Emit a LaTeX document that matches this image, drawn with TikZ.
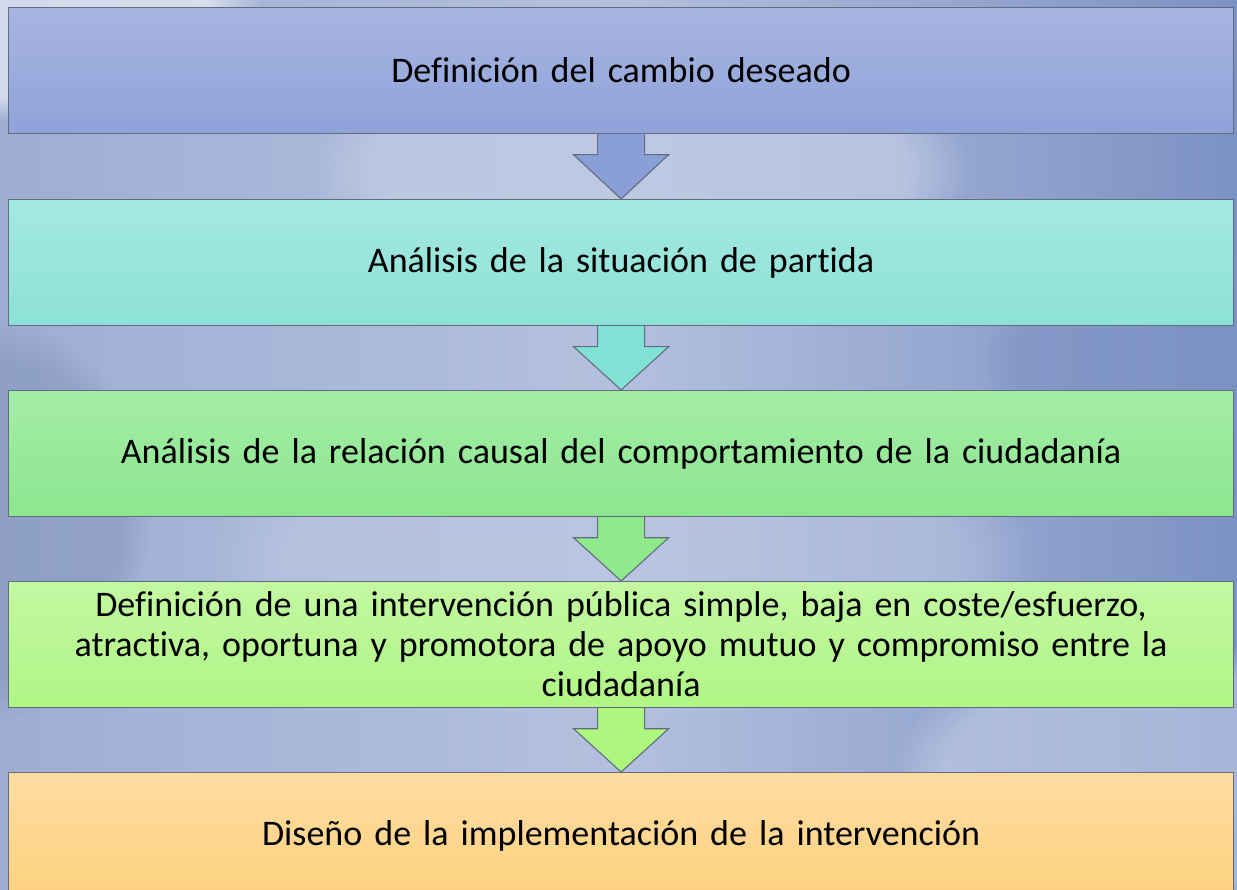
\documentclass[tikz,border=0pt]{standalone}
\usepackage{fontspec}
\setmainfont{Carlito}[Ligatures=NoCommon]
\usetikzlibrary{calc,fadings}
\definecolor{bgbase}{HTML}{A4B3D6}
\definecolor{bgdark}{HTML}{7C92C4}
\definecolor{bglight}{HTML}{C3CDE6}
\definecolor{edge}{HTML}{626C7C}
\definecolor{aT}{HTML}{A7B5E1}\definecolor{aB}{HTML}{8FA2D9}
\definecolor{bT}{HTML}{A4E9E0}\definecolor{bB}{HTML}{8CE1D6}
\definecolor{cT}{HTML}{A3EDA7}\definecolor{cB}{HTML}{8DE68F}
\definecolor{dT}{HTML}{C3F8A2}\definecolor{dB}{HTML}{B0F585}
\definecolor{eT}{HTML}{FEDCA2}\definecolor{eB}{HTML}{FDD27F}
\definecolor{arA}{HTML}{8A9ED8}
\definecolor{arB}{HTML}{80E2D5}
\definecolor{arC}{HTML}{90EA8C}
\definecolor{arD}{HTML}{ADF77E}
\tikzset{
  stepbox/.style={draw=edge, line width=1.2pt, minimum width=1225pt, minimum height=126pt,
    inner sep=0pt, text width=1200pt, align=center, font=\fontsize{36}{40}\selectfont},
  blockarrow/.style={draw=edge, line width=1.1pt, line join=miter}
}
\begin{document}
\begin{tikzpicture}[x=1pt,y=-1pt]
\useasboundingbox (0,0) rectangle (1237,890);
\clip (0,0) rectangle (1237,890);
% background sky
\shade[left color=bgbase!85!bgdark, right color=bgdark, middle color=bglight!50!bgbase] (0,0) rectangle (1237,890);
\fill[white, opacity=0.55, path fading=circle with fuzzy edge 20 percent] (0,0) ellipse (260 and 120);
\fill[bglight, opacity=0.7, path fading=circle with fuzzy edge 20 percent] (640,170) ellipse (330 and 130);
\fill[bglight, opacity=0.45, path fading=circle with fuzzy edge 20 percent] (620,560) ellipse (420 and 160);
\fill[bglight, opacity=0.6, path fading=circle with fuzzy edge 20 percent] (1150,780) ellipse (260 and 140);
\fill[bgdark, opacity=0.6, path fading=circle with fuzzy edge 20 percent] (1180,360) ellipse (200 and 160);
\fill[bgdark!80!black, opacity=0.25, path fading=circle with fuzzy edge 20 percent] (0,520) ellipse (150 and 200);
% boxes
\node[stepbox, top color=aT, bottom color=aB, anchor=north west] (b1) at (8,7) {Definición del cambio deseado};
\node[stepbox, top color=bT, bottom color=bB, anchor=north west] (b2) at (8,199) {Análisis de la situación de partida};
\node[stepbox, top color=cT, bottom color=cB, anchor=north west] (b3) at (8,390) {Análisis de la relación causal del comportamiento de la ciudadanía};
\node[stepbox, top color=dT, bottom color=dB, anchor=north west] (b4) at (8,581) {Definición de una intervención pública simple, baja en coste/esfuerzo,\\ atractiva, oportuna y promotora de apoyo mutuo y compromiso entre la\\ ciudadanía};
\node[stepbox, top color=eT, bottom color=eB, anchor=north west] (b5) at (8,772) {Diseño de la implementación de la intervención};
% arrows
\foreach \a/\b/\c in {b1/b2/arA, b2/b3/arB, b3/b4/arC, b4/b5/arD}{
  \filldraw[blockarrow, fill=\c]
    ($(\a.south)+(-23.5,0)$) -- ($(\a.south)+(-23.5,20.5)$) -- ($(\a.south)+(-47.5,20.5)$)
    -- (\b.north) -- ($(\a.south)+(47.5,20.5)$) -- ($(\a.south)+(23.5,20.5)$) -- ($(\a.south)+(23.5,0)$);
}
\end{tikzpicture}
\end{document}
